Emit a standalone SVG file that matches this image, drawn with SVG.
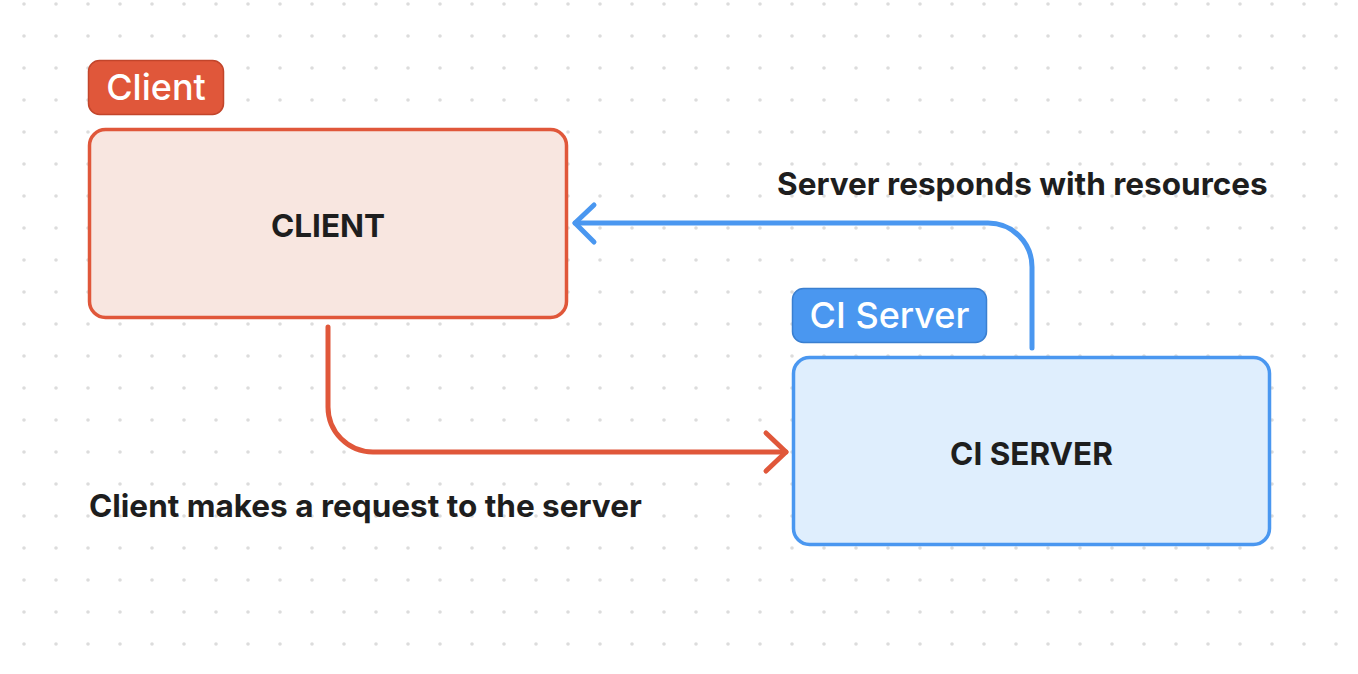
<svg xmlns="http://www.w3.org/2000/svg" width="1358" height="674" viewBox="0 0 1358 674">
  <defs>
    <pattern id="dots" x="24" y="4" width="32" height="32" patternUnits="userSpaceOnUse">
      <circle cx="0" cy="0" r="1.8" fill="#dcdcdc"/>
      <circle cx="32" cy="0" r="1.8" fill="#dcdcdc"/>
      <circle cx="0" cy="32" r="1.8" fill="#dcdcdc"/>
      <circle cx="32" cy="32" r="1.8" fill="#dcdcdc"/>
    </pattern>
    <style>
      .lbl { font-family: Inter, "Liberation Sans", sans-serif; font-weight: 700; font-size: 31.5px; fill: #1e1e1e; }
      .tag { font-family: Inter, "Liberation Sans", sans-serif; font-weight: 500; font-size: 36px; fill: #ffffff; }
      .conn { fill: none; stroke-width: 5; stroke-linecap: round; stroke-linejoin: round; }
    </style>
  </defs>
  <rect width="1358" height="674" fill="#ffffff"/>
  <rect width="1358" height="674" fill="url(#dots)"/>

  <g id="client-tag">
    <rect x="88.5" y="60.5" width="135" height="54" rx="11" fill="#E0573A" stroke="#C2452B" stroke-width="1.5"/>
    <text class="tag" x="156" y="100" text-anchor="middle">Client</text>
  </g>
  <g id="client">
    <rect x="89.5" y="129.5" width="477" height="188" rx="16" fill="#F8E6E0" stroke="#E0573A" stroke-width="3.5"/>
    <text class="lbl" x="328" y="237" text-anchor="middle">CLIENT</text>
  </g>

  <g id="ci-server-tag">
    <rect x="792.5" y="288.5" width="194" height="54" rx="11" fill="#4A97F0" stroke="#3A7FD0" stroke-width="1.5"/>
    <text class="tag" x="889.5" y="328" text-anchor="middle">CI Server</text>
  </g>
  <g id="ci-server">
    <rect x="793.5" y="357.5" width="476" height="187" rx="16" fill="#DFEEFD" stroke="#4A97F0" stroke-width="3.5"/>
    <text class="lbl" x="1031.5" y="465" text-anchor="middle">CI SERVER</text>
  </g>

  <g id="connectors">
    <path class="conn" stroke="#E0573A" d="M328 327 V407 A45 45 0 0 0 373 452 H786"/>
    <path class="conn" stroke="#E0573A" d="M766 433 L786 452 L766 471"/>
    <path class="conn" stroke="#4A97F0" d="M1032 348 V267 A44 44 0 0 0 988 223 H575"/>
    <path class="conn" stroke="#4A97F0" d="M594 205 L575 223 L594 242"/>
  </g>

  <g id="labels">
    <text class="lbl" x="777" y="195">Server responds with resources</text>
    <text class="lbl" x="89" y="517">Client makes a request to the server</text>
  </g>
</svg>
